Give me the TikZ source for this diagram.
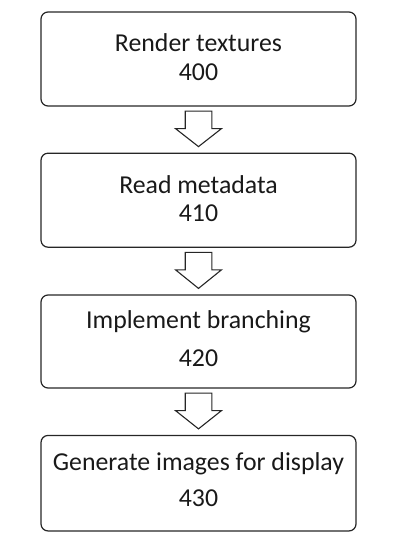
\documentclass[tikz,border=0pt]{standalone}
\usepackage{fontspec}
\setmainfont{Carlito}
\usetikzlibrary{calc}
\tikzset{
  stepbox/.style={draw=black!85, line width=1.2pt, rounded corners=7pt, minimum width=315pt, inner sep=0pt},
  steptext/.style={anchor=base, inner sep=0pt, font=\fontsize{25.8}{30}\selectfont, text=black!90},
  blockarrow/.style={draw=black!85, line width=1.1pt, fill=white, line join=miter},
}
\begin{document}
\begin{tikzpicture}[x=1pt,y=-1pt]
\useasboundingbox (0,0) rectangle (406,538);
% boxes
\node[stepbox, minimum height=94pt] (b1) at (198.5,59) {};
\node[stepbox, minimum height=94pt] (b2) at (198.5,200.2) {};
\node[stepbox, minimum height=93pt] (b3) at (198.5,341.5) {};
\node[stepbox, minimum height=95.5pt] (b4) at (198.5,483.2) {};
% texts
\node[steptext] (t1a) at (198.5,51.7) {Render textures};
\node[steptext] (t1b) at (198.5,80) {400};
\node[steptext] (t2a) at (198.5,193.3) {Read metadata};
\node[steptext] (t2b) at (198.5,221.7) {410};
\node[steptext] (t3a) at (198.5,328.3) {Implement branching};
\node[steptext] (t3b) at (198.5,366.7) {420};
\node[steptext] (t4a) at (198.5,470) {Generate images for display};
\node[steptext] (t4b) at (198.5,506) {430};
% arrows
\foreach \a/\b in {b1/b2,b2/b3,b3/b4}{
  \draw[blockarrow] ($(\a.south)+(-13.3,4.5)$) -- ($(\a.south)+(13.3,4.5)$)
    -- ($(\a.south)+(13.3,22)$) -- ($(\a.south)+(23,22)$)
    -- ($(\b.north)+(0,-6)$)
    -- ($(\a.south)+(-23,22)$) -- ($(\a.south)+(-13.3,22)$) -- cycle;
}
\end{tikzpicture}
\end{document}
